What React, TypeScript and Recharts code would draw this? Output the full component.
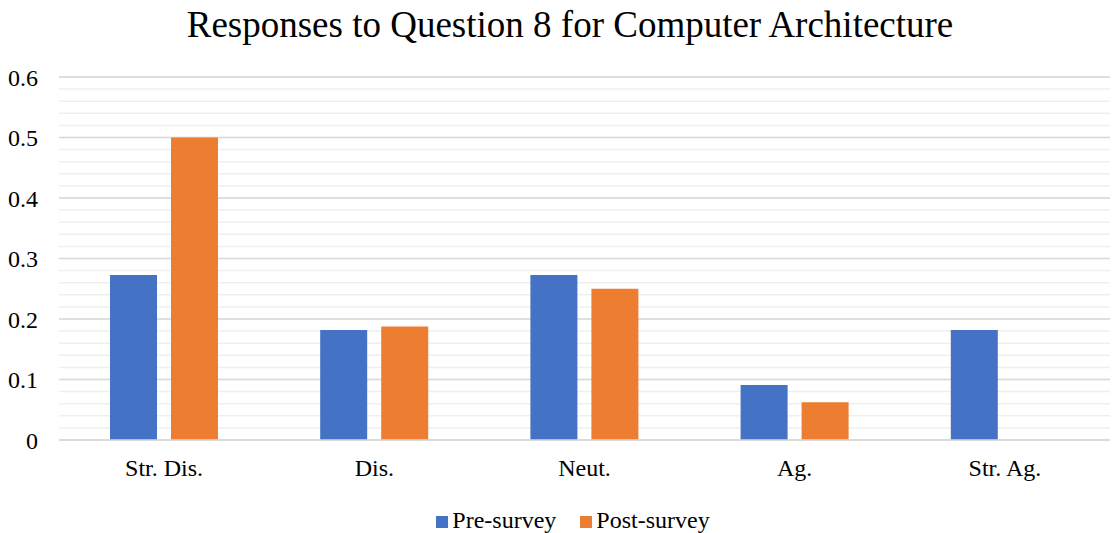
import { BarChart, Bar, XAxis, YAxis, CartesianGrid, Legend } from "recharts";

const categories = ["Str. Dis.", "Dis.", "Neut.", "Ag.", "Str. Ag."];
const seriesNames = ["Pre-survey", "Post-survey"];
const preSurvey = [0.2727, 0.1818, 0.2727, 0.0909, 0.1818];
const postSurvey = [0.5, 0.1875, 0.25, 0.0625, 0];
const yTicks = [0, 0.02, 0.04, 0.06, 0.08, 0.1, 0.12, 0.14, 0.16, 0.18, 0.2, 0.22, 0.24, 0.26, 0.28, 0.3, 0.32, 0.34, 0.36, 0.38, 0.4, 0.42, 0.44, 0.46, 0.48, 0.5, 0.52, 0.54, 0.56, 0.58, 0.6];
const majorTicks = [0, 0.1, 0.2, 0.3, 0.4, 0.5, 0.6];

const FONT = "Liberation Serif";

export default function App() {
  const data = categories.map((name, i) => ({
    name,
    [seriesNames[0]]: preSurvey[i],
    [seriesNames[1]]: postSurvey[i],
  }));

  // only label the major ticks, minor ones just feed the gridlines
  const fmt = (v: number) => {
    const r = Math.round(v * 100);
    if (r % 10 !== 0) return "";
    return r === 0 ? "0" : String(r / 100);
  };

  return (
    <div
      style={{
        position: "absolute",
        left: 0,
        top: 0,
        width: 1112,
        height: 533,
        overflow: "hidden",
        background: "#fff",
        fontFamily: FONT,
      }}
    >
      <div
        style={{
          position: "absolute",
          left: 0,
          width: 1140,
          top: 3,
          textAlign: "center",
          fontSize: 37,
          fontFamily: FONT,
          color: "#000",
        }}
      >
        Responses to Question 8 for Computer Architecture
      </div>
      <BarChart
        width={1112}
        height={533}
        data={data}
        margin={{ top: 77, right: 2, left: 0, bottom: 33 }}
        barSize={47}
        barGap={14}
      >
        <CartesianGrid vertical={false} horizontalValues={yTicks} stroke="#efefef" strokeWidth={1.5} />
        <CartesianGrid vertical={false} horizontalValues={majorTicks} stroke="#d9d9d9" strokeWidth={1.5} />
        <XAxis
          dataKey="name"
          height={30}
          tickLine={false}
          axisLine={{ stroke: "#d9d9d9", strokeWidth: 1.5 }}
          tickSize={0}
          tickMargin={19}
          tick={{ fontSize: 24, fill: "#000", fontFamily: FONT }}
        />
        <YAxis
          width={59}
          domain={[0, 0.6]}
          ticks={yTicks}
          interval={0}
          tickFormatter={fmt}
          tickLine={false}
          axisLine={false}
          tickSize={0}
          tickMargin={21}
          tick={{ fontSize: 24, fill: "#000", fontFamily: FONT }}
        />
        <Legend
          verticalAlign="bottom"
          height={30}
          iconType="square"
          iconSize={12}
          itemSorter={(item: any) => seriesNames.indexOf(item.value)}
          wrapperStyle={{ bottom: -4, left: 30, fontSize: 24, fontFamily: FONT }}
          formatter={(v: string) => <span style={{ color: "#000", marginRight: 14 }}>{v}</span>}
        />
        <Bar dataKey={seriesNames[0]} fill="#4472C4" isAnimationActive={false} />
        <Bar dataKey={seriesNames[1]} fill="#ED7D31" isAnimationActive={false} />
      </BarChart>
    </div>
  );
}
